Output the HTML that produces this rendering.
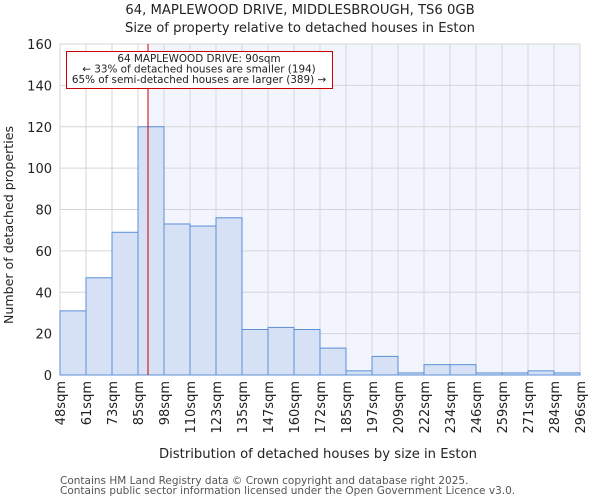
<!DOCTYPE html>
<html><head><meta charset="utf-8"><style>
body{margin:0;background:#fff;font-family:"DejaVu Sans","Liberation Sans",sans-serif;}
svg text{font-family:"DejaVu Sans","Liberation Sans",sans-serif;fill:#222;}
</style></head><body>
<svg id="c" width="600" height="500">
<text x="300" y="14" font-size="13.2" text-anchor="middle">64, MAPLEWOOD DRIVE, MIDDLESBROUGH, TS6 0GB</text>
<text x="300" y="32" font-size="13.2" text-anchor="middle">Size of property relative to detached houses in Eston</text>
<g id="plot"></g>
<text x="318" y="458" font-size="13.2" text-anchor="middle">Distribution of detached houses by size in Eston</text>
<text transform="translate(13,225) rotate(-90)" font-size="12.6" text-anchor="middle">Number of detached properties</text>
<text x="60" y="484" font-size="10.5" style="fill:#555">Contains HM Land Registry data © Crown copyright and database right 2025.</text>
<text x="60" y="494" font-size="10.5" style="fill:#555">Contains public sector information licensed under the Open Government Licence v3.0.</text>
</svg>
<script>
const binLabels=["48sqm","61sqm","73sqm","85sqm","98sqm","110sqm","123sqm","135sqm","147sqm","160sqm","172sqm","185sqm","197sqm","209sqm","222sqm","234sqm","246sqm","259sqm","271sqm","284sqm","296sqm"];
const binEdges=[48,61,73,85,98,110,123,135,147,160,172,185,197,209,222,234,246,259,271,284,296];
const counts=[31,47,69,120,73,72,76,22,23,22,13,2,9,1,5,5,1,1,2,1];
const yTicks=[0,20,40,60,80,100,120,140,160];
const propertySize=90;
const X0=60,X1=580,Y0=375,Y1=44,YMAX=160;
const nb=counts.length, bw=(X1-X0)/nb;
const xi=i=>X0+i*bw;
const y=v=>Y0-(v/YMAX)*(Y0-Y1);
function xv(v){for(let i=0;i<binEdges.length-1;i++){if(v<=binEdges[i+1])return xi(i)+(v-binEdges[i])/(binEdges[i+1]-binEdges[i])*bw;}return X1;}
const g=document.getElementById('plot');const NS="http://www.w3.org/2000/svg";
function el(t,a){const e=document.createElementNS(NS,t);for(const k in a)e.setAttribute(k,a[k]);g.appendChild(e);return e;}
const lx=xv(propertySize);
let r=el('rect',{x:X0,y:Y1,width:X1-X0,height:Y0-Y1,fill:'#fff'});


r=el('rect',{x:lx,y:Y1,width:X1-lx,height:Y0-Y1,fill:'#f2f5fd'});


yTicks.forEach(t=>{const l=el('line',{x1:X0,x2:X1,y1:y(t),y2:y(t),stroke:'#d6d6d6','stroke-width':1});


const tx=el('text',{x:X0-8,y:y(t)+5,'font-size':13,'text-anchor':'end'});tx.textContent=t;

});
binLabels.forEach((lb,i)=>{const l=el('line',{x1:xi(i),x2:xi(i),y1:Y1,y2:Y0,stroke:'#d6d6d6','stroke-width':1});


const tx=el('text',{transform:`translate(${xi(i)+5},${Y0+6}) rotate(-90)`,'font-size':13,'text-anchor':'end'});tx.textContent=lb;

});
counts.forEach((c,i)=>{const b=el('rect',{x:xi(i),y:y(c),width:bw,height:Y0-y(c),fill:'#d6e1f5',stroke:'#5a8fd6','stroke-width':1});

});
const ml=el('line',{x1:lx,x2:lx,y1:Y1,y2:Y0,stroke:'#cc0000','stroke-width':1});


const box=el('rect',{x:66.5,y:51.5,width:266,height:37,fill:'#fff',stroke:'#cc0000','stroke-width':1});


["64 MAPLEWOOD DRIVE: 90sqm","← 33% of detached houses are smaller (194)","65% of semi-detached houses are larger (389) →"].forEach((s,i)=>{
const t=el('text',{x:199,y:62+i*10.5,'font-size':10.4,'text-anchor':'middle'});t.textContent=s;

});
</script>
</body></html>
